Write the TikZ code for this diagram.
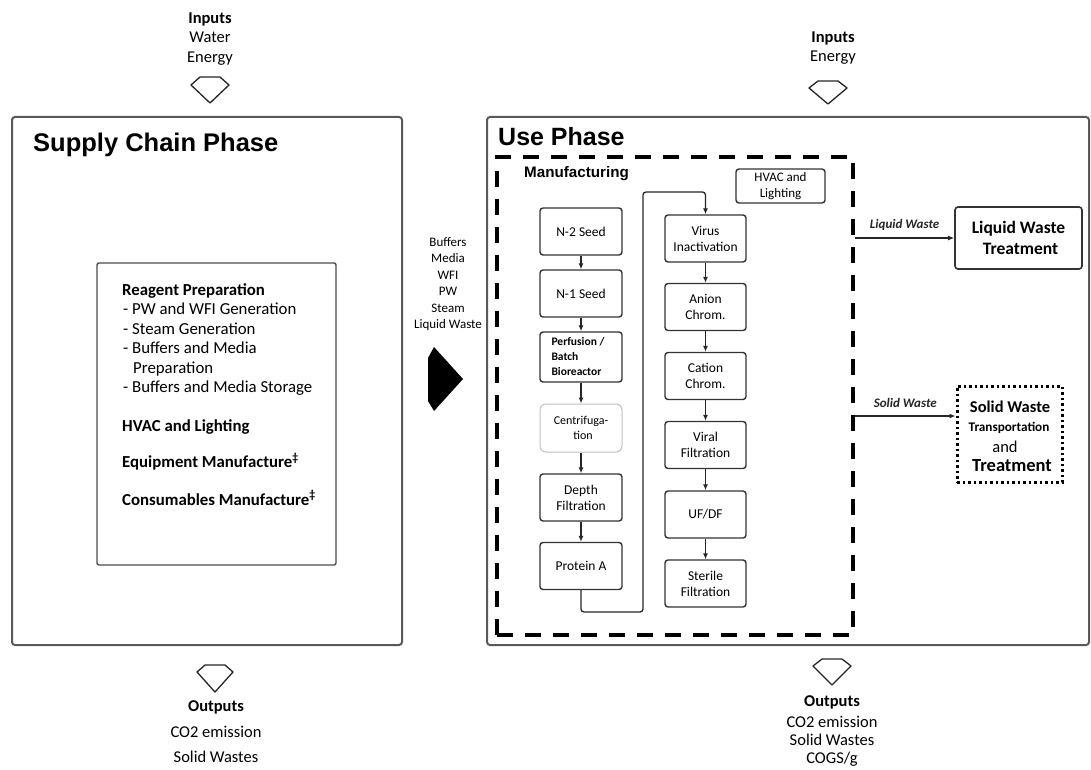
\documentclass[tikz,border=0pt]{standalone}
\usepackage{fontspec}
\setmainfont{Carlito}
\newfontfamily\arialf{Liberation Sans}
\usetikzlibrary{arrows.meta}
\begin{document}
\begin{tikzpicture}[x=1pt,y=-1pt,
  phase/.style={draw=black!65, line width=2pt, rounded corners=3pt},
  proc/.style={draw=black!80, line width=1.4pt, rounded corners=3pt, minimum width=82pt, minimum height=47pt, align=center, inner sep=1pt, font=\fontsize{13.5}{16}\selectfont},
  flow/.style={line width=1.3pt, draw=black!85, -{Latex[length=6pt,width=5pt]}},
  hollow/.style={draw=black!85, line width=1.3pt, line join=round, fill=white},
  txt/.style={align=center, inner sep=0pt},
  wlabel/.style={font=\itshape\bfseries\fontsize{13}{15}\selectfont, text=black!85},
]
\useasboundingbox (0,0) rectangle (1091,770);

% phase boxes
\node[phase, minimum width=390pt, minimum height=528pt] (sc) at (207,381) {};
\node[phase, minimum width=602pt, minimum height=528pt] (up) at (788,381) {};
\node[anchor=base west, inner sep=0pt, font=\arialf\bfseries\fontsize{25.5}{30}\selectfont] (sct) at (33,152) {Supply Chain Phase};
\node[anchor=base west, inner sep=0pt, font=\arialf\bfseries\fontsize{25}{30}\selectfont] (upt) at (498,146) {Use Phase};

% inputs
\node[txt, font=\fontsize{16.5}{19.5}\selectfont] (in1) at (210,39) {\textbf{Inputs}\\Water\\Energy};
\node[txt, font=\fontsize{16.5}{19.5}\selectfont] (in2) at (833,48) {\textbf{Inputs}\\Energy};
\draw[hollow] (200,77) -- (220,77) -- (229,85) -- (210,103) -- (191,85) -- cycle;
\draw[hollow] (818,81) -- (838,81) -- (847,88) -- (828,104) -- (809,88) -- cycle;

% outputs
\draw[hollow] (205,665) -- (225,665) -- (233,672) -- (215,692) -- (197,672) -- cycle;
\draw[hollow] (822,659) -- (842,659) -- (851,666) -- (832,685) -- (813,666) -- cycle;
\node[txt, font=\fontsize{16.5}{25.5}\selectfont] (out1) at (216,732) {\textbf{Outputs}\\CO2 emission\\Solid Wastes};
\node[txt, font=\fontsize{16.5}{18}\selectfont] (out2) at (832,731) {\textbf{Outputs}\\[3pt]CO2 emission\\Solid Wastes\\COGS/g};

% supply chain inner box
\node[draw=black!70, line width=1.4pt, rounded corners=2pt, minimum width=239pt, minimum height=302pt] (inner) at (216.5,414) {};
\node[anchor=north west, align=left, inner sep=0pt, font=\fontsize{16.8}{19.5}\selectfont] (items) at (122,283)
{\textbf{Reagent Preparation}\\
\hspace*{1pt}- PW and WFI Generation\\
\hspace*{1pt}- Steam Generation\\
\hspace*{1pt}- Buffers and Media\\
\hspace*{11pt}Preparation\\
\hspace*{1pt}- Buffers and Media Storage\\[19pt]
\textbf{HVAC and Lighting}\\[17pt]
\textbf{Equipment Manufacture\textsuperscript{\ddag}}\\[18pt]
\textbf{Consumables Manufacture\textsuperscript{\ddag}}};

% transfer
\node[txt, font=\fontsize{13}{16.5}\selectfont] (tr) at (448,284) {Buffers\\Media\\WFI\\PW\\Steam\\Liquid Waste};
\fill[black] (434,347) -- (463,379) -- (434,411) -- (428,401) -- (428,358) -- cycle;

% manufacturing
\node[draw=black, line width=4pt, dash pattern=on 16pt off 12pt, minimum width=356pt, minimum height=478pt] (mfg) at (675,396) {};
\node[anchor=base west, inner sep=0pt, font=\arialf\bfseries\fontsize{15.2}{18}\selectfont] (mfgt) at (524,178) {Manufacturing};
\node[proc, minimum width=89pt, minimum height=34pt, font=\fontsize{13}{16}\selectfont] (hvac) at (780.5,186) {HVAC and\\Lighting};

\node[proc] (n2) at (581,231.5) {N-2 Seed};
\node[proc] (n1) at (581,293.5) {N-1 Seed};
\node[proc, minimum height=50pt, align=left, font=\bfseries\fontsize{11.5}{15}\selectfont] (bio) at (581,357) {Perfusion /\hspace*{6pt}\\Batch\\Bioreactor};
\node[proc, draw=black!25, line width=1pt, rounded corners=6pt, minimum height=48pt, font=\fontsize{12}{15}\selectfont] (cen) at (581,428) {Centrifuga-\\\hspace*{4pt}tion};
\node[proc] (df) at (581,497.5) {Depth\\Filtration};
\node[proc] (pa) at (581,566) {Protein A};

\node[proc, minimum width=81pt] (vi) at (705.5,238.5) {Virus\\Inactivation};
\node[proc, minimum width=81pt] (an) at (705.5,307) {Anion\\Chrom.};
\node[proc, minimum width=81pt] (ca) at (705.5,376) {Cation\\Chrom.};
\node[proc, minimum width=81pt] (vf) at (705.5,445) {Viral\\Filtration};
\node[proc, minimum width=81pt] (uf) at (705.5,514.5) {UF/DF};
\node[proc, minimum width=81pt] (sf) at (705.5,583.5) {Sterile\\Filtration};

\draw[flow] (n2) -- (n1);
\draw[flow] (n1) -- (bio);
\draw[flow] (bio) -- (cen);
\draw[flow] (cen) -- (df);
\draw[flow] (df) -- (pa);
\coordinate (r1) at (643,612);
\coordinate (r2) at (643,192);
\draw[flow, rounded corners=3pt] (pa.south) |- (r1) -- (r2) -| (vi.north);
\draw[flow] (vi) -- (an);
\draw[flow] (an) -- (ca);
\draw[flow] (ca) -- (vf);
\draw[flow] (vf) -- (uf);
\draw[flow] (uf) -- (sf);

% wastes
\node[draw=black!80, line width=1.6pt, rounded corners=3pt, minimum width=127pt, minimum height=62pt, align=center, font=\bfseries\fontsize{17.5}{21}\selectfont] (lwt) at (1018.5,238) {Liquid Waste\\\hspace*{4pt}Treatment};
\node[draw=black, line width=3pt, dash pattern=on 2.5pt off 3pt, minimum width=105pt, minimum height=96pt] (swt) at (1009.5,434) {};
\node[inner sep=0pt, font=\bfseries\fontsize{16.5}{18}\selectfont] (sw1) at (1010,407) {Solid Waste};
\node[inner sep=0pt, font=\bfseries\fontsize{13.2}{14}\selectfont] (sw2) at (1009,428) {Transportation};
\node[inner sep=0pt, font=\fontsize{16.5}{18}\selectfont] (sw3) at (1005,447) {and};
\node[inner sep=0pt, font=\bfseries\fontsize{18.5}{20}\selectfont] (sw4) at (1012,466) {Treatment};

\draw[flow] (mfg.east |- lwt.west) -- node[above=3pt, wlabel] (lwl) {Liquid Waste} (lwt.west);
\coordinate (swin) at (mfg.east |- 0,416);
\draw[flow] (swin) -- node[above=4pt, wlabel] (swl) {Solid Waste} (swin -| swt.west);
\end{tikzpicture}
\end{document}
